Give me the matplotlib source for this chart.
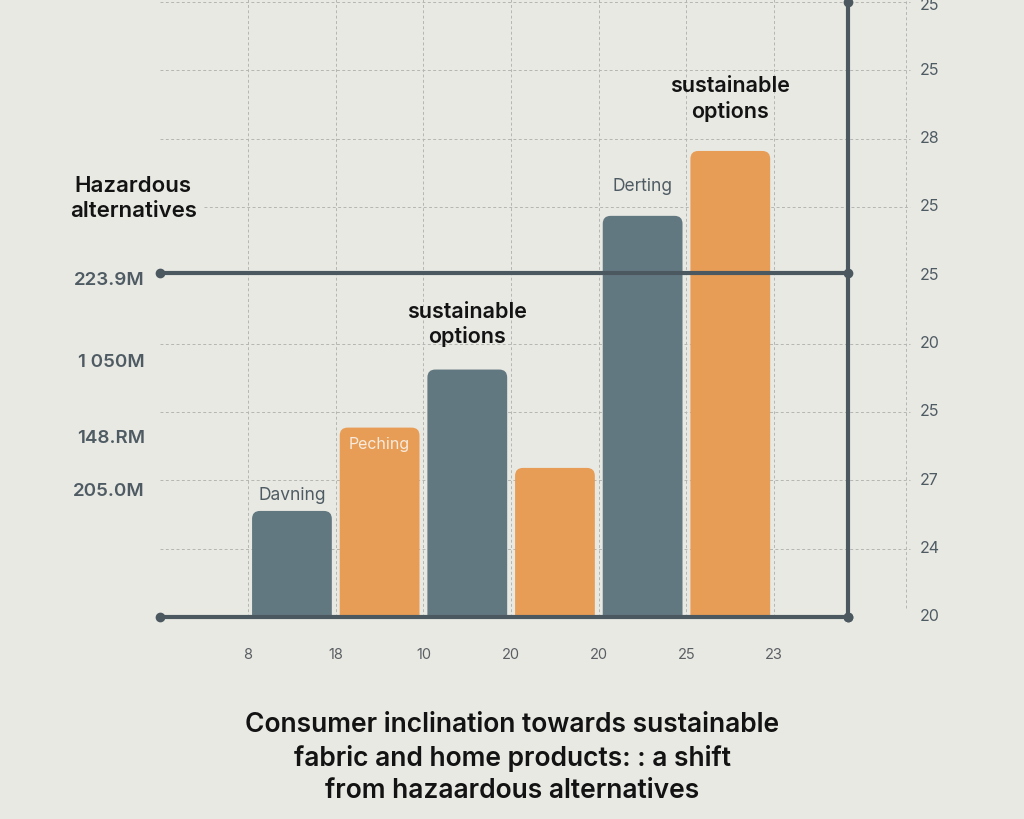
import numpy as np
import matplotlib.pyplot as plt
from matplotlib.patches import FancyBboxPatch, Rectangle

plt.rcParams['font.family'] = ['Inter', 'Liberation Sans', 'DejaVu Sans']

BG = '#e9e9e4'
SLATE = '#627880'
ORANGE = '#e89d56'
AXIS = '#4b5860'
GRID = '#b5b6b2'
LABEL = '#4f5b63'
DARK = '#131313'

# bars (value in grid units, baseline = 0)
bar_values = [1.55, 2.77, 3.62, 2.18, 5.87, 6.82]
bar_colors = [SLATE, ORANGE, SLATE, ORANGE, SLATE, ORANGE]

x_tick_labels = ['8', '18', '10', '20', '20', '25', '23']
right_tick_labels = ['20', '24', '27', '25', '20', '25', '25', '28', '25', '25']
left_labels = ['223.9M', '1 050M', '148.RM', '205.0M']
left_label_pos = [4.92, 3.73, 2.61, 1.83]

bar_notes = ['Davning', 'Peching', 'sustainable\noptions', None, 'Derting', 'sustainable\noptions']
note_pos = [1.77, 2.52, 4.28, None, 6.30, 7.58]

title = ('Consumer inclination towards sustainable\n'
         'fabric and home products: : a shift\n'
         'from hazaardous alternatives')

fig = plt.figure(figsize=(10.24, 8.19), dpi=100)
fig.patch.set_facecolor(BG)
ax = fig.add_axes([0, 0, 1, 1])
ax.set_facecolor(BG)
ax.set_xlim(-3.33, 8.35)
ax.set_ylim(-2.96, 9.03)
ax.axis('off')

# grid
dash = (0, (3, 2.5))
for k in range(1, 10):
    if k == 5:
        continue
    start = -1.0 if k == 6 else -1.5
    ax.plot([start, 7.05], [k, k], color=GRID, lw=0.7, ls=dash, zorder=1)
for i in range(7):
    ax.plot([i - 0.5, i - 0.5], [0, 9.1], color=GRID, lw=0.7, ls=dash, zorder=1)
ax.plot([7.0, 7.0], [0.13, 9.1], color=GRID, lw=0.7, ls=dash, zorder=1)

# bars with rounded tops
clip = Rectangle((-5, 0), 20, 20, transform=ax.transData)
aspect = 87.7 / 68.3
for i, (v, c) in enumerate(zip(bar_values, bar_colors)):
    p = FancyBboxPatch((i - 0.455, -0.3), 0.91, v + 0.3,
                       boxstyle='round,pad=0,rounding_size=0.09',
                       mutation_aspect=aspect, fc=c, ec='none', zorder=2)
    ax.add_patch(p)
    p.set_clip_path(clip)

# solid axis lines
ax.plot([-1.5, 6.34], [0, 0], color=AXIS, lw=3, zorder=3,
        marker='o', markersize=6, markevery=[0, 1])
ax.plot([-1.5, 6.34], [5.03, 5.03], color=AXIS, lw=3, zorder=3,
        marker='o', markersize=6, markevery=[0, 1])
ax.plot([6.34, 6.34], [0, 9.0], color=AXIS, lw=3, zorder=3,
        marker='o', markersize=6, markevery=[0, 1])

# right tick labels
for k, lab in enumerate(right_tick_labels):
    y = k if k < 9 else 8.95
    ax.text(7.16, y, lab, ha='left', va='center', fontsize=11.5, color=LABEL)

# bottom tick labels
for i, lab in enumerate(x_tick_labels):
    ax.text(i - 0.5, -0.56, lab, ha='center', va='center', fontsize=10.5, color='#5a5f63')

# left labels
ax.text(-1.81, 6.12, 'Hazardous\nalternatives', ha='center', va='center',
        fontsize=16, fontweight='semibold', color=DARK, linespacing=1.3)
for lab, y in zip(left_labels, left_label_pos):
    ax.text(-1.68, y, lab, ha='right', va='center', fontsize=13.5,
            fontweight='semibold', color=LABEL)

# bar notes
for i, (note, y) in enumerate(zip(bar_notes, note_pos)):
    if note is None:
        continue
    if '\n' in note:
        ax.text(i, y, note, ha='center', va='center', fontsize=15.5,
                fontweight='semibold', color=DARK, linespacing=1.25)
    elif bar_colors[i] == ORANGE:
        ax.text(i, y, note, ha='center', va='center', fontsize=11.5,
                color='#f7ebdd')
    else:
        ax.text(i, y, note, ha='center', va='center', fontsize=12.5,
                color=LABEL)

fig.text(0.5, 0.0745, title, ha='center', va='center', fontsize=19,
         fontweight='semibold', color=DARK, linespacing=1.33)

fig.savefig('out.png', dpi=100, facecolor=BG)
